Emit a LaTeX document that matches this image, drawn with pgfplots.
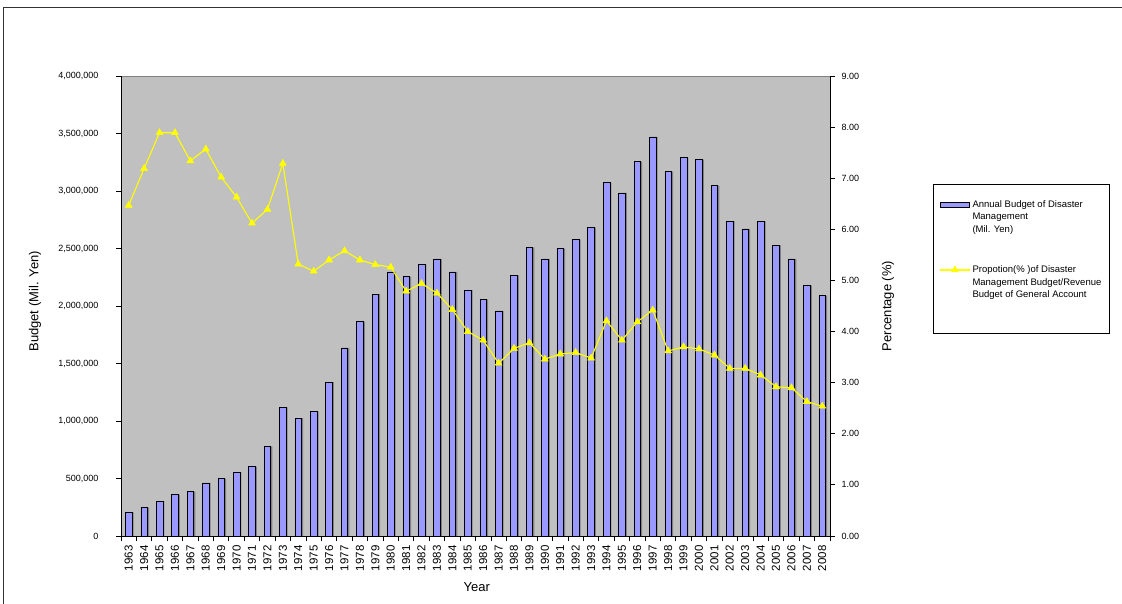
\documentclass[border=0pt]{standalone}
\usepackage{fontspec}
\setmainfont{Liberation Sans}
\usepackage{pgfplots}
\usepackage{pgfplotstable}
\pgfplotsset{compat=1.18}
\definecolor{plotgray}{HTML}{C0C0C0}
\definecolor{barblue}{HTML}{9999FF}
\definecolor{lineyellow}{HTML}{FFFF00}
\pgfplotsset{
  mylineleg/.style={legend image code/.code={\draw[mark repeat=2,mark phase=2,##1] plot coordinates {(0pt,21.75pt) (15pt,21.75pt) (30pt,21.75pt)};}},
  mybarleg/.style={legend image code/.code={\draw[fill=barblue,draw=black,line width=0.6pt] (0pt,9.5pt) rectangle (29pt,14.5pt);}},
}
\pgfplotstableread{
year budget
1963 205000
1964 246000
1965 304000
1966 359000
1967 385000
1968 461000
1969 498000
1970 554000
1971 603000
1972 780000
1973 1119000
1974 1026000
1975 1081000
1976 1337000
1977 1635000
1978 1864000
1979 2104000
1980 2296000
1981 2255000
1982 2363000
1983 2409000
1984 2296000
1985 2137000
1986 2058000
1987 1957000
1988 2267000
1989 2510000
1990 2409000
1991 2499000
1992 2577000
1993 2681000
1994 3072000
1995 2983000
1996 3255000
1997 3470000
1998 3168000
1999 3290000
2000 3272000
2001 3046000
2002 2737000
2003 2670000
2004 2737000
2005 2528000
2006 2409000
2007 2180000
2008 2090000
}\budgettable

\begin{document}
\begin{tikzpicture}
\begin{axis}[
  at={(121pt,-536pt)}, anchor=south west,
  scale only axis, width=709pt, height=460pt,
  xmin=1962.5, xmax=2008.5, ymin=0, ymax=4000000,
  axis x line*=bottom, axis y line*=left,
  axis line style={black, line width=0.9pt},
  axis background/.style={fill=plotgray, draw=gray, line width=0.8pt},
  tick align=outside,
  major tick length=5pt,
  tick style={black, line width=0.8pt},
  xtick={1962.5,1963.5,...,2008.5}, xticklabels={},
  extra x ticks={1963,1964,...,2008},
  extra x tick style={major tick length=0pt},
  xticklabel style={font=\fontsize{11.5}{12}\selectfont, yshift=-6pt, rotate=90, anchor=east, /pgf/number format/1000 sep={}},
  ytick={0,500000,...,4000000},
  scaled y ticks=false,
  yticklabel style={font=\fontsize{9}{10}\selectfont, /pgf/number format/fixed, /pgf/number format/1000 sep={,}, xshift=-14pt},
  /pgf/number format/assume math mode=true,
  ylabel={Budget (Mil. Yen)},
  ylabel style={font=\fontsize{13}{15}\selectfont, at={(axis description cs:-0.1213,0.51)}, anchor=center},
  xlabel={Year},
  xlabel style={font=\fontsize{13}{15}\selectfont, at={(axis description cs:0.5017,-0.112)}, anchor=center},
]
% bar shadow
\addplot[ybar, bar width=6.6pt, bar shift=1.6pt, fill=black!50, draw=none] table[x=year, y=budget] {\budgettable};
% bars
\addplot[ybar, bar width=6.6pt, bar shift=0pt, fill=barblue, draw=black, line width=0.6pt] table[x=year, y=budget] {\budgettable};
\end{axis}
\begin{axis}[
  at={(121pt,-536pt)}, anchor=south west,
  scale only axis, width=709pt, height=460pt,
  xmin=1962.5, xmax=2008.5, ymin=0, ymax=9,
  axis x line=none, axis y line*=right,
  axis line style={black, line width=0.9pt},
  tick align=outside,
  major tick length=5pt,
  tick style={black, line width=0.8pt},
  ytick={0,1,...,9},
  yticklabel style={font=\fontsize{9}{10}\selectfont, xshift=3pt, /pgf/number format/.cd, fixed, fixed zerofill, precision=2},
  /pgf/number format/assume math mode=true,
  ylabel={Percentage (\%)},
  ylabel style={font=\fontsize{13}{15}\selectfont, at={(axis description cs:1.0818,0.5)}, anchor=center},
  legend cell align=left,
  legend style={at={(axis description cs:1.1453,0.7652)}, anchor=north west,
    draw=black, fill=white, line width=0.8pt,
    font=\fontsize{9.5}{12.5}\selectfont, cells={align=left},
    row sep=28pt, inner xsep=6pt, inner ysep=14pt},
]
\addlegendimage{mybarleg}
\addlegendentry{Annual Budget of Disaster\\Management\\(Mil. Yen)}
\addplot[lineyellow, line width=1.1pt, mark=triangle*, mark size=4pt,
  mark options={fill=lineyellow, draw=lineyellow, line width=0.5pt}, mylineleg] coordinates {
(1963,6.47) (1964,7.19) (1965,7.89) (1966,7.89) (1967,7.34)
(1968,7.57) (1969,7.02) (1970,6.63) (1971,6.12) (1972,6.39)
(1973,7.29) (1974,5.32) (1975,5.18) (1976,5.40) (1977,5.58)
(1978,5.40) (1979,5.31) (1980,5.26) (1981,4.79) (1982,4.94)
(1983,4.75) (1984,4.43) (1985,4.00) (1986,3.83) (1987,3.38)
(1988,3.67) (1989,3.78) (1990,3.46) (1991,3.56) (1992,3.59)
(1993,3.48) (1994,4.21) (1995,3.83) (1996,4.19) (1997,4.42)
(1998,3.62) (1999,3.70) (2000,3.66) (2001,3.54) (2002,3.28)
(2003,3.28) (2004,3.15) (2005,2.92) (2006,2.90) (2007,2.63)
(2008,2.54)
};
\addlegendentry{Propotion(\% )of Disaster\\Management Budget/Revenue\\Budget of General Account\\[6pt]\mbox{}}
\end{axis}
\draw[black!80, line width=1pt] (3.5pt,-604pt) -- (3.5pt,-7.5pt) -- (1122pt,-7.5pt);
\pgfresetboundingbox
\useasboundingbox (0pt,0pt) rectangle (1122pt,-604pt);
\end{tikzpicture}
\end{document}
